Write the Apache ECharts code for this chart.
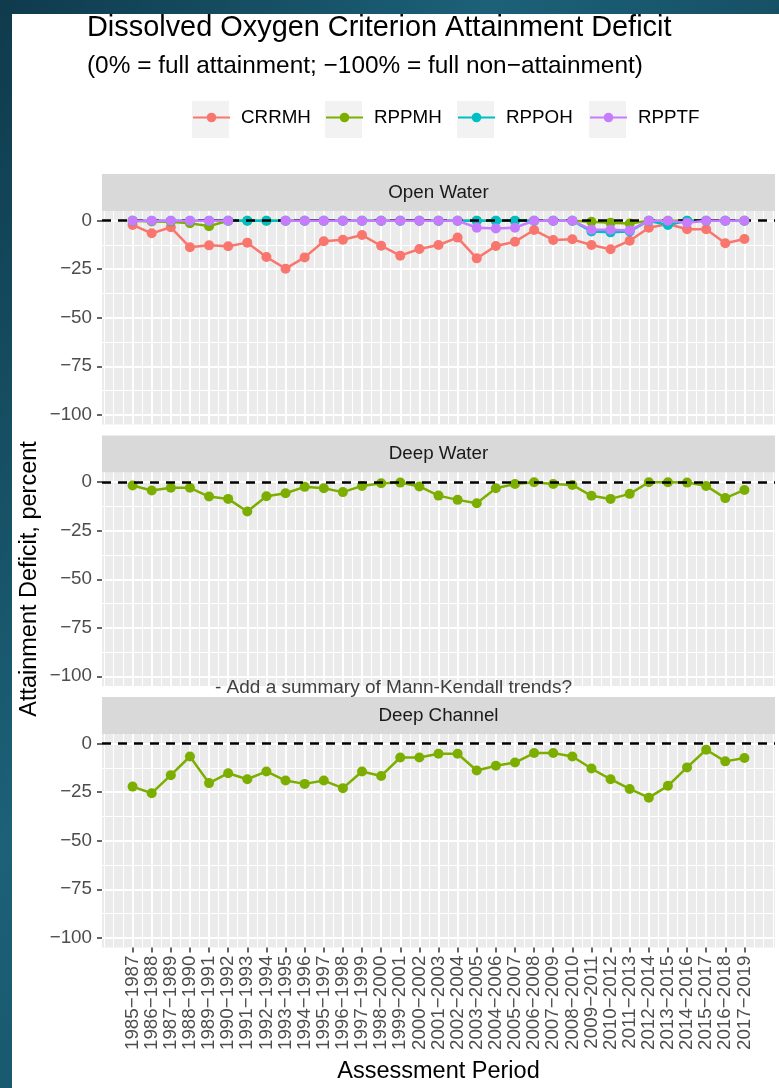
<!DOCTYPE html>
<html><head><meta charset="utf-8">
<script src="https://cdn.jsdelivr.net/npm/echarts@6/dist/echarts.min.js"></script>
<style>
html,body{margin:0;padding:0;width:779px;height:1088px;overflow:hidden;
background:linear-gradient(120deg,#0f3a4c 0%,#1c6178 35%,#14495d 65%,#0d3142 100%);}
#paper{position:absolute;left:12px;top:14px;right:0;bottom:0;background:#fff;}
#chart{position:absolute;left:0;top:0;width:779px;height:1088px;}
</style></head><body><div id="paper"></div><div id="chart"></div>
<script>
// ---- data ----
const periods = ['1985−1987','1986−1988','1987−1989','1988−1990','1989−1991','1990−1992','1991−1993','1992−1994','1993−1995','1994−1996','1995−1997','1996−1998','1997−1999','1998−2000','1999−2001','2000−2002','2001−2003','2002−2004','2003−2005','2004−2006','2005−2007','2006−2008','2007−2009','2008−2010','2009−2011','2010−2012','2011−2013','2012−2014','2013−2015','2014−2016','2015−2017','2016−2018','2017−2019'];
const stations = ['CRRMH','RPPMH','RPPOH','RPPTF'];
const panelNames = ['Open Water','Deep Water','Deep Channel'];
const yTicks = [-100,-75,-50,-25,0];
const yMinor = [-87.5,-62.5,-37.5,-12.5];

// Open Water
const crrmhOpen = [-2.2,-6.5,-3.4,-13.7,-12.7,-13.2,-11.3,-18.7,-24.7,-18.9,-10.6,-9.8,-7.4,-12.9,-18.0,-14.6,-12.5,-8.7,-19.4,-13.0,-10.8,-4.8,-9.9,-9.6,-12.5,-14.7,-10.3,-3.6,-1.7,-4.4,-4.4,-11.6,-9.4];
const rppmhOpen = [0,-0.4,-0.5,-1.3,-2.8,0,0,0,0,0,0,0,0,0,0,0,0,0,0,0,0,0,0,0,-0.5,-1.0,-1.4,0,0,0,0,0,0];
const rppohOpen = [0,0,0,0,0,0,0,0,0,0,0,0,0,0,0,0,0,0,0,0,0,0,0,0,-5.5,-6.0,-5.5,0,-2.2,0,0,0,0];
const rpptfOpen = [0,0,0,0,0,0,null,null,0,0,0,0,0,0,0,0,0,0,-3.6,-4.0,-3.6,0,0,0,-4.7,-4.7,-5.0,0,0,-1.0,0,0,0];
// Deep Water
const rppmhDeep = [-1.7,-4.3,-2.9,-2.9,-7.4,-8.6,-15.1,-7.2,-5.7,-2.4,-3.1,-5.1,-1.9,-0.5,-0.2,-2.2,-6.9,-9.1,-10.8,-3.1,-0.9,0,-0.9,-1.4,-7.0,-8.6,-6.0,0,0,-0.2,-1.9,-8.2,-4.0];
// Deep Channel
const rppmhChannel = [-22.1,-25.5,-16.2,-6.6,-20.3,-15.2,-18.3,-14.3,-19.0,-20.7,-19.0,-22.9,-14.3,-16.6,-7.1,-7.1,-5.2,-5.2,-13.8,-11.4,-9.7,-4.8,-4.8,-6.6,-12.8,-18.3,-23.3,-27.8,-21.7,-12.2,-3.1,-9.1,-7.4];

const colors = {CRRMH:'#F8766D', RPPMH:'#7CAE00', RPPOH:'#00BFC4', RPPTF:'#C77CFF'};

// ---- layout ----
const FONT = '"Liberation Sans", Arial, sans-serif';
const PL = 102, PW = 673, PH = 213.5, STRIP = 37;
const panelTops = [211, 472.5, 734];
const X_MIN = -1.6, X_MAX = 33.6, Y_MIN = -105, Y_MAX = 5;
const xMajor = periods.map((p, i) => i);
const xMinor = [];
for (let k = -3; k <= 67; k++) { if (k % 2 !== 0 || k < 0 || k > 64) xMinor.push(k / 2); }

const grids = [], xAxes = [], yAxes = [], series = [], graphics = [];
const minus = v => v < 0 ? '\u2212' + (-v) : String(v);

panelTops.forEach((top, g) => {
  grids.push({left: PL, top: top, width: PW, height: PH, show: true, backgroundColor: '#EBEBEB', borderWidth: 0, containLabel: false});
  const isBottom = g === panelTops.length - 1;
  xAxes.push({
    type: 'value', gridIndex: g, min: X_MIN, max: X_MAX, position: 'bottom',
    axisLine: {show: false, onZero: false},
    axisTick: {show: isBottom, customValues: xMajor, length: 5, lineStyle: {color: '#333333', width: 1.5}},
    axisLabel: {show: isBottom, customValues: xMajor, rotate: 90, margin: 8, fontSize: 18.8, color: '#4D4D4D', fontFamily: FONT,
      formatter: v => periods[Math.round(v)] || ''},
    splitLine: {show: true, lineStyle: {color: '#FFFFFF', width: 2}}
  });
  xAxes.push({
    type: 'value', gridIndex: g, min: X_MIN, max: X_MAX, position: 'top',
    axisLine: {show: false, onZero: false}, axisLabel: {show: false},
    axisTick: {show: false, customValues: xMinor},
    splitLine: {show: true, lineStyle: {color: '#FFFFFF', width: 1.1}}
  });
  yAxes.push({
    type: 'value', gridIndex: g, min: Y_MIN, max: Y_MAX, position: 'left',
    axisLine: {show: false, onZero: false},
    axisTick: {show: true, customValues: yTicks, length: 5, lineStyle: {color: '#333333', width: 1.5}},
    axisLabel: {show: true, customValues: yTicks, margin: 10, fontSize: 18.8, color: '#4D4D4D', fontFamily: FONT, formatter: minus},
    splitLine: {show: true, lineStyle: {color: '#FFFFFF', width: 2}}
  });
  yAxes.push({
    type: 'value', gridIndex: g, min: Y_MIN, max: Y_MAX, position: 'right',
    axisLine: {show: false, onZero: false}, axisLabel: {show: false},
    axisTick: {show: false, customValues: yMinor},
    splitLine: {show: true, lineStyle: {color: '#FFFFFF', width: 1.1}}
  });
  // strip
  graphics.push({type: 'rect', shape: {x: PL, y: top - STRIP, width: PW, height: STRIP}, style: {fill: '#D9D9D9'}, silent: true});
  graphics.push({type: 'text', x: PL + PW / 2, y: top - STRIP / 2, silent: true,
    style: {text: panelNames[g], fontSize: 18.8, fontFamily: FONT, fill: '#1A1A1A', align: 'center', verticalAlign: 'middle'}});
});

const dashed = {silent: true, symbol: 'none', label: {show: false}, animation: false,
  lineStyle: {color: '#000000', type: [9, 7], width: 2.5}, data: [{yAxis: 0}]};

function mk(name, data, g, z, withZero) {
  const s = {
    type: 'line', name: name, xAxisIndex: 2 * g, yAxisIndex: 2 * g,
    data: data.map((v, i) => [i, v == null ? '-' : v]),
    symbol: 'circle', symbolSize: 10, showSymbol: true, z: z,
    itemStyle: {color: colors[name]}, lineStyle: {color: colors[name], width: 2.5},
    emphasis: {disabled: true}, animation: false, connectNulls: false
  };
  if (withZero) s.markLine = dashed;
  return s;
}
series.push(mk('CRRMH', crrmhOpen, 0, 2));
series.push(mk('RPPMH', rppmhOpen, 0, 3));
series.push(mk('RPPOH', rppohOpen, 0, 4));
series.push(mk('RPPTF', rpptfOpen, 0, 5, true));
series.push(mk('RPPMH', rppmhDeep, 1, 3, true));
series.push(mk('RPPMH', rppmhChannel, 2, 3, true));

// legend key backgrounds
const keyLeft = [192, 325, 457, 589];
keyLeft.forEach(x => graphics.push({type: 'rect', shape: {x: x, y: 101, width: 37, height: 37}, style: {fill: '#F2F2F2'}, silent: true, z: -1}));

const legends = stations.map((s, i) => ({
  data: [s], left: keyLeft[i], top: 108, padding: 0, itemWidth: 37, itemHeight: 12, selectedMode: false,
  textStyle: {fontSize: 18.8, color: '#000000', fontFamily: FONT, padding: [0, 0, 0, 6]}
}));

// titles
graphics.push({type: 'text', x: 87, y: 28, silent: true,
  style: {text: 'Dissolved Oxygen Criterion Attainment Deficit', fontSize: 28.9, fontFamily: FONT, fill: '#000', align: 'left', verticalAlign: 'middle'}});
graphics.push({type: 'text', x: 87, y: 66, silent: true,
  style: {text: '(0% = full attainment; \u2212100% = full non\u2212attainment)', fontSize: 24.4, fontFamily: FONT, fill: '#000', align: 'left', verticalAlign: 'middle'}});
graphics.push({type: 'text', x: PL + PW / 2, y: 1072, silent: true,
  style: {text: 'Assessment Period', fontSize: 23.5, fontFamily: FONT, fill: '#000', align: 'center', verticalAlign: 'middle'}});
graphics.push({type: 'text', x: 30, y: 579, rotation: Math.PI / 2, silent: true,
  style: {text: 'Attainment Deficit, percent', fontSize: 23.5, fontFamily: FONT, fill: '#000', align: 'center', verticalAlign: 'middle'}});
graphics.push({type: 'text', x: 215, y: 688, silent: true, z: 10,
  style: {text: '- Add a summary of Mann-Kendall trends?', fontSize: 19, fontFamily: FONT, fill: '#404040', align: 'left', verticalAlign: 'middle'}});

const chart = echarts.init(document.getElementById('chart'), null, {renderer: 'canvas'});
chart.setOption({
  backgroundColor: 'transparent',
  animation: false,
  grid: grids, xAxis: xAxes, yAxis: yAxes, series: series,
  legend: legends, graphic: graphics
});
</script></body></html>
